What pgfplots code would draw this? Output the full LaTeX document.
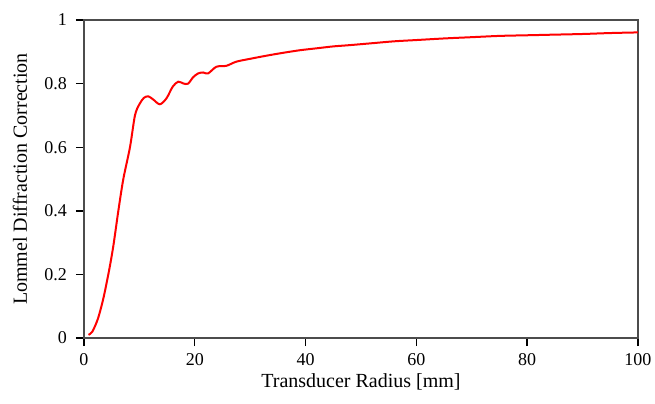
\documentclass[border=0pt]{standalone}
\usepackage{pgfplots}
\pgfplotsset{compat=1.18}
\usepackage{fontspec}
\setmainfont{Liberation Serif}
\begin{document}
\begin{tikzpicture}
\useasboundingbox (-42pt,-32.5pt) rectangle (285.5pt,169pt);
\begin{axis}[
  at={(0,0)}, anchor=origin,
  scale only axis,
  width=277pt, height=159pt,
  xmin=0, xmax=100, ymin=0, ymax=1,
  xtick={0,20,40,60,80,100},
  ytick={0,0.2,0.4,0.6,0.8,1},
  yticklabels={0,0.2,0.4,0.6,0.8,1},
  tick pos=left,
  tick align=outside,
  major tick length=4pt,
  axis line style={gray!60!black, line width=0.6pt},
  xtick style={draw=black, line width=0.7pt},
  ytick style={draw=black, line width=0.7pt},
  tick label style={font=\fontsize{9}{10}\selectfont},
  label style={font=\fontsize{9.2}{10}\selectfont},
  /pgf/number format/assume math mode=true,
  xticklabel style={yshift=0pt},
  yticklabel style={xshift=-1pt},
  xlabel={Transducer Radius [mm]},
  ylabel={Lommel Diffraction Correction},
  every axis x label/.style={at={(axis description cs:0.5,0)}, anchor=center, yshift=-22pt},
  every axis y label/.style={at={(axis description cs:-0.1155,0.5)}, anchor=center, rotate=90},
]
\addplot[red, line width=1pt, smooth, tension=0.5] coordinates {
(0.8,0.01)(1.5,0.02)(2.5,0.06)(3.5,0.125)(4.5,0.21)(5.3,0.29)(6.2,0.40)(7.1,0.50)(8.3,0.60)(9.2,0.70)(10.0,0.735)(10.8,0.755)(11.6,0.76)(12.5,0.75)(13.7,0.735)(14.9,0.754)(16.0,0.79)(17.0,0.806)(18.0,0.80)(18.8,0.80)(19.7,0.82)(20.6,0.832)(21.5,0.835)(22.4,0.832)(23.9,0.853)(25.7,0.856)(27.5,0.869)(30,0.878)(33,0.888)(36,0.897)(39,0.905)(42,0.911)(45,0.917)(48,0.921)(52,0.927)(56,0.933)(60,0.937)(65,0.942)(70,0.946)(75,0.950)(80,0.952)(85,0.954)(90,0.956)(95,0.959)(100,0.961)
};
\end{axis}
\end{tikzpicture}
\end{document}
